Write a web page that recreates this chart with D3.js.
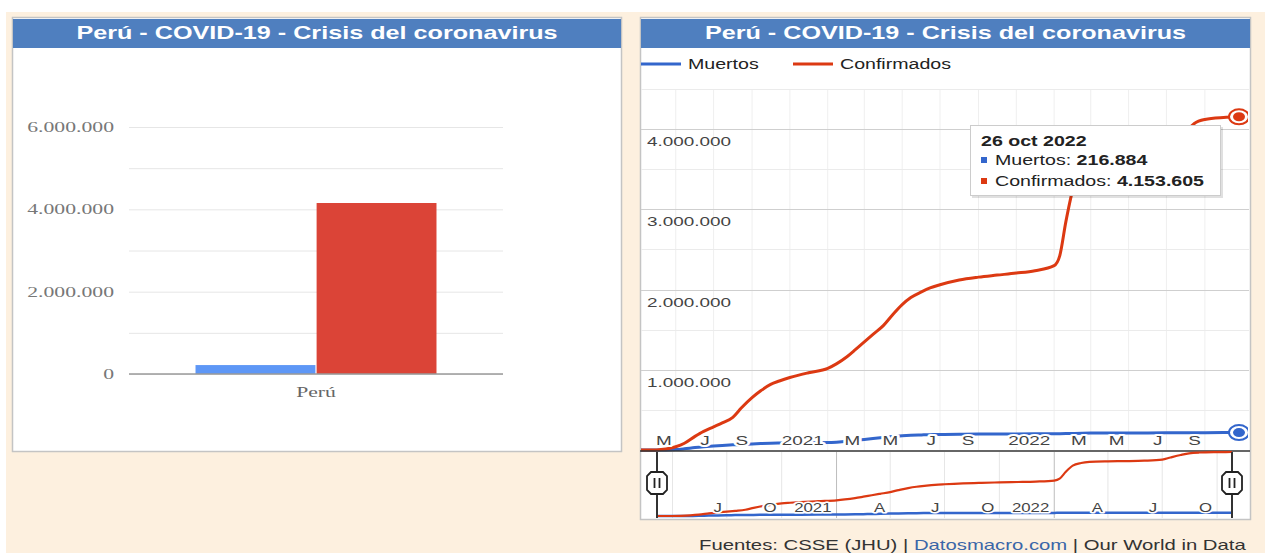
<!DOCTYPE html>
<html>
<head>
<meta charset="utf-8" />
<title>Perú - COVID-19 - Crisis del coronavirus</title>
<script src="https://cdnjs.cloudflare.com/ajax/libs/d3/7.8.5/d3.min.js"></script>
<style>
  body { margin: 0; background: #fff; }
  text { font-family: "Liberation Sans", Arial, sans-serif; }
  .serif { font-family: "Liberation Serif", "Times New Roman", serif; }
</style>
</head>
<body>
<script>
// ---- data ----
var countries = ["Perú"];
var barSeries = ["Muertos", "Confirmados"];
var barValues = [216884, 4153605];

var dates = ["2020-03-06", "2020-03-31", "2020-04-15", "2020-05-01", "2020-05-15", "2020-06-01",
  "2020-06-15", "2020-07-01", "2020-07-15", "2020-08-01", "2020-08-15", "2020-09-01", "2020-09-15",
  "2020-10-01", "2020-10-15", "2020-11-01", "2020-12-01", "2021-01-01", "2021-01-15", "2021-02-01",
  "2021-02-15", "2021-03-01", "2021-03-15", "2021-04-01", "2021-04-15", "2021-05-01", "2021-05-15",
  "2021-06-01", "2021-06-15", "2021-07-01", "2021-08-01", "2021-09-01", "2021-10-01", "2021-11-01",
  "2021-12-01", "2022-01-01", "2022-01-10", "2022-01-20", "2022-02-01", "2022-02-15", "2022-03-01",
  "2022-04-01", "2022-05-01", "2022-06-01", "2022-07-01", "2022-07-15", "2022-08-01", "2022-08-15",
  "2022-09-01", "2022-10-01", "2022-10-26"];
var confirmados = [0, 1065, 11475, 40459, 84495, 170039,
  232992, 288477, 337724, 407492, 525803, 652037, 738020,
  818297, 859740, 903009, 963605, 1017199, 1073214, 1161735,
  1253051, 1347536, 1441223, 1553363, 1680000, 1812000, 1900000,
  1970000, 2020000, 2060000, 2120000, 2155000, 2180000, 2205000,
  2235000, 2298000, 2420000, 2850000, 3270000, 3440000, 3510000,
  3548000, 3562000, 3590000, 3660000, 3800000, 3960000, 4070000,
  4120000, 4145000, 4153605];
var muertos = [0, 30, 500, 5000, 15000, 30000,
  40000, 50000, 57000, 64000, 70000, 76000, 80000,
  84000, 86000, 88000, 90000, 93000, 98000, 108000,
  120000, 131000, 142000, 156000, 168000, 178000, 184000,
  188000, 191000, 193000, 196500, 198600, 199700, 200600,
  201900, 202800, 203200, 204200, 206500, 209000, 211000,
  212500, 212900, 213300, 213700, 214300, 215000, 215600,
  216100, 216600, 216884];

var monthInitials = ["E", "F", "M", "A", "M", "J", "J", "A", "S", "O", "N", "D"];
var tooltipDate = "26 oct 2022";
var title = "Perú - COVID-19 - Crisis del coronavirus";

var blue = "#3366cc", red = "#dc3912";
var barColors = ["#5e97f6", "#db4437"];

var fmt = d3.formatLocale({decimal: ",", thousands: ".", grouping: [3], currency: ["", ""]}).format(",d");
var parse = d3.timeParse("%Y-%m-%d");
var rows = dates.map(function(d, i) { return {date: parse(d), c: confirmados[i], m: muertos[i]}; });
var last = rows[rows.length - 1];

// text is drawn a bit wider than normal
var SX = 1.4;
function stext(parent, x, y, str) {
  return parent.append("text")
    .attr("transform", "translate(" + x + "," + y + ") scale(" + SX + ",1)")
    .text(str);
}

var svg = d3.select("body").append("svg").attr("width", 1265).attr("height", 553);
svg.append("rect").attr("x", 6).attr("y", 12).attr("width", 1259).attr("height", 541).attr("fill", "#fdf0df");

function panel(x, w, h) {
  svg.append("rect").attr("x", x + 0.5).attr("y", 17.5).attr("width", w).attr("height", h)
    .attr("fill", "#fff").attr("stroke", "#c4c4c4").attr("stroke-width", 1.5);
  svg.append("rect").attr("x", x + 1).attr("y", 19).attr("width", w - 1).attr("height", 29).attr("fill", "#4f7fbf");
  stext(svg, x + w / 2 + 0.5, 39, title)
    .attr("text-anchor", "middle").attr("fill", "#fff")
    .attr("font-size", 18).attr("font-weight", "bold");
}
panel(12, 609, 434);
panel(640, 610, 502);

// ---- left: bar chart ----
var yL = d3.scaleLinear().domain([0, 6000000]).range([374, 127]);
var x0 = d3.scaleBand().domain(countries).range([129, 503]).paddingOuter(0.276).paddingInner(0);
var x1 = d3.scaleBand().domain(barSeries).range([0, x0.bandwidth()]).paddingInner(0.01);

var gl = svg.append("g");
gl.append("g").attr("transform", "translate(129,0)")
  .call(d3.axisLeft(yL).ticks(6).tickSize(-374).tickFormat(""))
  .call(function(g) {
    g.select(".domain").remove();
    g.selectAll(".tick line").attr("stroke", "#e6e6e6");
  });

gl.selectAll(".bar").data(barValues).enter().append("rect")
  .attr("x", function(d, i) { return x0(countries[0]) + x1(barSeries[i]); })
  .attr("width", x1.bandwidth())
  .attr("y", function(d) { return yL(d); })
  .attr("height", function(d) { return yL(0) - yL(d); })
  .attr("fill", function(d, i) { return barColors[i]; });

gl.append("line").attr("x1", 129).attr("x2", 503).attr("y1", yL(0)).attr("y2", yL(0))
  .attr("stroke", "#9a9a9a").attr("stroke-width", 1.5);

[0, 2000000, 4000000, 6000000].forEach(function(v) {
  stext(gl, 114, yL(v) + 5, fmt(v)).attr("class", "serif")
    .attr("text-anchor", "end").attr("font-size", 15.5).attr("fill", "#777");
});
countries.forEach(function(c) {
  stext(gl, x0(c) + x0.bandwidth() / 2, 397, c).attr("class", "serif")
    .attr("text-anchor", "middle").attr("font-size", 15.5).attr("fill", "#666");
});

// ---- right: time series ----
var x = d3.scaleTime().domain([rows[0].date, last.date]).range([641, 1239]);
var y = d3.scaleLinear().domain([0, 4500000]).range([450, 89]);
var gr = svg.append("g");

svg.append("clipPath").attr("id", "plotclip").append("rect")
  .attr("x", 641).attr("y", 75).attr("width", 607).attr("height", 377);

var monthTicks = x.ticks(d3.timeMonth.every(2));
gr.selectAll(".vgrid").data(monthTicks).enter().append("line")
  .attr("x1", function(d) { return x(d); }).attr("x2", function(d) { return x(d); })
  .attr("y1", 89).attr("y2", 450).attr("stroke", "#efefef");

gr.selectAll(".hgrid").data(d3.range(500000, 4500001, 500000)).enter().append("line")
  .attr("x1", 641).attr("x2", 1249)
  .attr("y1", function(d) { return Math.round(y(d)) + 0.5; })
  .attr("y2", function(d) { return Math.round(y(d)) + 0.5; })
  .attr("stroke", function(d) { return d % 1000000 === 0 ? "#cfcfcf" : "#ebebeb"; });

[1000000, 2000000, 3000000, 4000000].forEach(function(v) {
  stext(gr, 647, y(v) + 17, fmt(v)).attr("font-size", 13.5).attr("fill", "#444");
});

var lineC = d3.line().x(function(d) { return x(d.date); }).y(function(d) { return y(d.c); }).curve(d3.curveMonotoneX);
var lineM = d3.line().x(function(d) { return x(d.date); }).y(function(d) { return y(d.m); }).curve(d3.curveMonotoneX);

var plot = gr.append("g").attr("clip-path", "url(#plotclip)");
plot.append("path").datum(rows).attr("d", lineM).attr("fill", "none").attr("stroke", blue).attr("stroke-width", 3);
plot.append("path").datum(rows).attr("d", lineC).attr("fill", "none").attr("stroke", red).attr("stroke-width", 3);

// x labels (November hidden, year shown for January)
monthTicks.filter(function(d) { return d.getMonth() !== 10; }).forEach(function(d) {
  var lab = d.getMonth() === 0 ? String(d.getFullYear()) : monthInitials[d.getMonth()];
  stext(gr, x(d) - 4, 445, lab).attr("text-anchor", "end").attr("font-size", 13.5)
    .attr("fill", "#444").attr("stroke", "#fff").attr("stroke-width", 4)
    .attr("stroke-linejoin", "round").attr("paint-order", "stroke");
});

// end markers
[[last.c, red], [last.m, blue]].forEach(function(p) {
  plot.append("ellipse").attr("cx", x(last.date)).attr("cy", y(p[0])).attr("rx", 10).attr("ry", 7.5)
    .attr("fill", "#fff").attr("stroke", p[1]).attr("stroke-width", 2);
  plot.append("ellipse").attr("cx", x(last.date)).attr("cy", y(p[0])).attr("rx", 6).attr("ry", 4.5)
    .attr("fill", p[1]);
});

gr.append("line").attr("x1", 640).attr("x2", 1250).attr("y1", 451).attr("y2", 451)
  .attr("stroke", "#333").attr("stroke-width", 1.5);

// legend
[["Muertos", blue, 641], ["Confirmados", red, 793]].forEach(function(l) {
  gr.append("line").attr("x1", l[2]).attr("x2", l[2] + 40).attr("y1", 64).attr("y2", 64)
    .attr("stroke", l[1]).attr("stroke-width", 3);
  stext(gr, l[2] + 47, 69, l[0]).attr("font-size", 14).attr("fill", "#222");
});

// tooltip
var tip = gr.append("g");
tip.append("rect").attr("x", 972).attr("y", 127).attr("width", 251).attr("height", 71).attr("fill", "#000").attr("opacity", 0.12);
tip.append("rect").attr("x", 970.5).attr("y", 125.5).attr("width", 250).attr("height", 70)
  .attr("fill", "#fff").attr("stroke", "#cccccc");
stext(tip, 981, 146, tooltipDate).attr("font-size", 14).attr("font-weight", "bold").attr("fill", "#222");
[["Muertos", last.m, blue, 165], ["Confirmados", last.c, red, 186]].forEach(function(t) {
  tip.append("rect").attr("x", 981).attr("y", t[3] - 8).attr("width", 6).attr("height", 6).attr("fill", t[2]);
  var tx = stext(tip, 995, t[3], null).attr("font-size", 14).attr("fill", "#222");
  tx.append("tspan").text(t[0] + ": ");
  tx.append("tspan").attr("font-weight", "bold").text(fmt(t[1]));
});

// ---- navigator ----
var xn = d3.scaleTime().domain([rows[0].date, last.date]).range([657, 1232]);
var yn = d3.scaleLinear().domain([0, last.c]).range([516, 452]);
var nav = svg.append("g");
var qTicks = xn.ticks(d3.timeMonth.every(3));
nav.selectAll(".ngrid").data(qTicks).enter().append("line")
  .attr("x1", function(d) { return xn(d); }).attr("x2", function(d) { return xn(d); })
  .attr("y1", 452).attr("y2", 518)
  .attr("stroke", function(d) { return d.getMonth() === 0 ? "#bdbdbd" : "#e6e6e6"; });

var lineCn = d3.line().x(function(d) { return xn(d.date); }).y(function(d) { return yn(d.c); }).curve(d3.curveMonotoneX);
var lineMn = d3.line().x(function(d) { return xn(d.date); }).y(function(d) { return yn(d.m); }).curve(d3.curveMonotoneX);
nav.append("path").datum(rows).attr("d", lineMn).attr("fill", "none").attr("stroke", blue).attr("stroke-width", 2.5);
nav.append("path").datum(rows).attr("d", lineCn).attr("fill", "none").attr("stroke", red).attr("stroke-width", 2.2);

qTicks.filter(function(d) { return xn(d) - 25 > 657; }).forEach(function(d) {
  var lab = d.getMonth() === 0 ? String(d.getFullYear()) : monthInitials[d.getMonth()];
  stext(nav, xn(d) - 5, 512, lab).attr("text-anchor", "end").attr("font-size", 12)
    .attr("fill", "#444").attr("stroke", "#fff").attr("stroke-width", 3)
    .attr("stroke-linejoin", "round").attr("paint-order", "stroke");
});

[657, 1232].forEach(function(hx) {
  nav.append("line").attr("x1", hx).attr("x2", hx).attr("y1", 452).attr("y2", 518)
    .attr("stroke", "#333").attr("stroke-width", 2);
  var cy = 483;
  nav.append("path")
    .attr("d", "M" + (hx - 6) + "," + (cy - 11) + "H" + (hx + 6) + "L" + (hx + 10) + "," + (cy - 7) +
      "V" + (cy + 7) + "L" + (hx + 6) + "," + (cy + 11) + "H" + (hx - 6) + "L" + (hx - 10) + "," + (cy + 7) +
      "V" + (cy - 7) + "Z")
    .attr("fill", "#fff").attr("stroke", "#222").attr("stroke-width", 1.8);
  [-2.5, 2.5].forEach(function(o) {
    nav.append("line").attr("x1", hx + o).attr("x2", hx + o).attr("y1", cy - 5).attr("y2", cy + 5)
      .attr("stroke", "#222").attr("stroke-width", 1.8);
  });
});

// ---- footer ----
var foot = stext(svg, 699, 550, null).attr("font-size", 14.5).attr("fill", "#333");
foot.append("tspan").text("Fuentes: CSSE (JHU) | ");
foot.append("tspan").attr("fill", "#3a66a8").text("Datosmacro.com");
foot.append("tspan").text(" | Our World in Data");
</script>
</body>
</html>
